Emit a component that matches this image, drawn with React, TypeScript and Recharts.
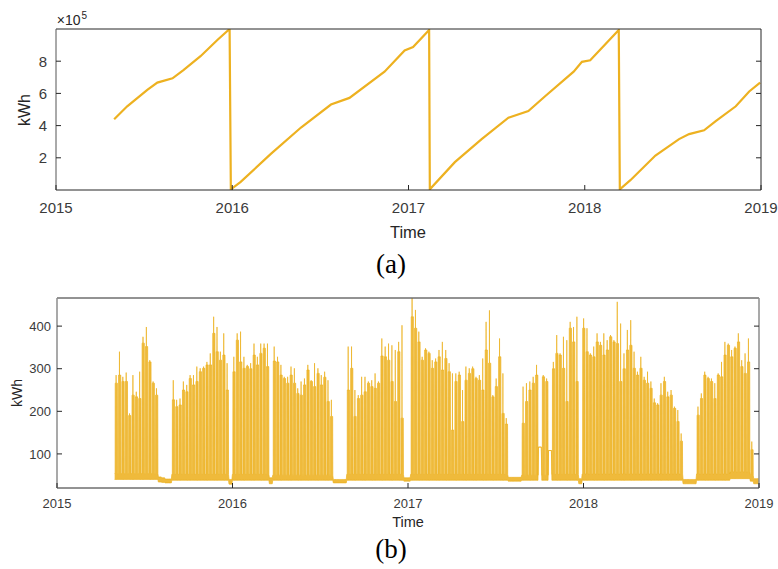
import React from 'react';
import { LineChart, Line, AreaChart, Area, XAxis, YAxis } from 'recharts';

// (a) cumulative meter reading (decimal year, kWh)
const meterYear = [
  2015.330, 2015.404, 2015.518, 2015.575, 2015.661, 2015.723, 2015.820, 2015.917, 2015.985, 2015.992,
  2016.048, 2016.219, 2016.390, 2016.560, 2016.665, 2016.864, 2016.978, 2017.026, 2017.117, 2017.121,
  2017.263, 2017.415, 2017.567, 2017.680, 2017.775, 2017.937, 2017.984, 2018.031, 2018.193, 2018.199,
  2018.259, 2018.401, 2018.535, 2018.592, 2018.677, 2018.743, 2018.857, 2018.933, 2018.995,
];
const meterKwh = [
  439000, 520000, 622000, 667000, 694000, 745000, 831000, 933000, 1000000, 4000,
  51000, 224000, 388000, 531000, 572000, 735000, 867000, 888000, 994000, 4000,
  173000, 316000, 449000, 490000, 582000, 735000, 796000, 806000, 994000, 4000,
  61000, 214000, 316000, 347000, 371000, 428000, 520000, 612000, 667000,
];

// (b) load, one entry per week from 1 May 2015; null = no working days that week
const firstWeekDay = 120; // days after 1 Jan 2015
const weekPeak: (number | null)[] = [
  285, 340, 281, 291, 195, 285, 246, 293, 375, 398,
  320, 270, 254, null, null, null, null, 273, 227, 230,
  270, 262, 285, 285, 305, 301, 305, 316, 336, 422,
  398, 340, 383, 313, null, 328, 383, 387, 328, 309,
  313, 359, 328, 359, 359, 359, null, 352, 328, 309,
  281, 281, 305, 301, 254, 270, 277, 309, 273, 313,
  301, 285, 293, 273, 227, null, null, null, null, 352,
  352, 250, 238, 281, 281, 270, 273, 289, 270, 371,
  352, 359, 355, 344, 363, 402, null, null, 465, 438,
  387, 328, 348, 340, 320, 324, 344, 363, 344, 313,
  289, 289, 293, 250, 305, 301, 305, 281, 285, 324,
  410, 437, 238, 277, 371, 289, 184, null, null, null,
  null, 258, 266, 270, 281, 309, null, 285, 277, null,
  316, 379, 336, 375, 367, 410, 398, 422, null, 418,
  395, 336, 352, 383, 363, 383, 367, 379, 367, 457,
  406, 336, 391, 414, 340, 293, 328, 281, 293, 270,
  230, 219, 266, 281, 246, 250, 211, 203, 148, null,
  null, null, null, 211, 242, 293, 281, 277, 266, 289,
  316, 363, 359, 344, 352, 383, 320, 336, 371, 129,
  null,
];
// typical working-day level of each week (the solid part under the spikes)
const weekTypical: (number | null)[] = [
  266, 285, 270, 270, 190, 238, 234, 230, 360, 352,
  316, 266, 238, null, null, null, null, 227, 211, 215,
  250, 246, 277, 262, 270, 293, 301, 309, 309, 383,
  340, 320, 332, 250, null, 293, 367, 316, 301, 305,
  300, 332, 309, 336, 348, 305, null, 318, 316, 285,
  277, 266, 285, 266, 242, 238, 262, 297, 270, 258,
  289, 262, 280, 223, 188, null, null, null, null, 250,
  301, 188, 230, 238, 246, 266, 258, 254, 266, 330,
  328, 320, 270, 223, 340, 184, null, null, 422, 395,
  363, 320, 344, 336, 301, 316, 328, 297, 324, 293,
  156, 270, 285, 176, 273, 289, 300, 277, 273, 250,
  344, 313, 234, 258, 328, 195, 170, null, null, null,
  null, 172, 223, 250, 266, 285, null, 281, 270, null,
  300, 336, 332, 301, 223, 395, 363, 270, null, 395,
  340, 332, 328, 363, 355, 332, 344, 375, 363, 359,
  270, 300, 344, 355, 301, 285, 301, 273, 266, 254,
  220, 215, 238, 270, 234, 238, 207, 176, 130, null,
  null, null, null, 191, 230, 285, 277, 270, 230, 285,
  281, 332, 355, 328, 348, 363, 305, 289, 316, 110,
  null,
];
// [fromWeek, toWeek, lowest load, off-hours load]
const baseLevels: [number, number, number, number][] = [
  [0, 12, 40, 54], [13, 13, 34, 46], [14, 14, 33, 44], [15, 16, 32, 41],
  [17, 33, 38, 52], [34, 34, 29, 40], [35, 45, 38, 52], [46, 46, 30, 44],
  [47, 64, 38, 50], [65, 68, 32, 40], [69, 85, 38, 52], [86, 87, 36, 44],
  [88, 116, 38, 52], [117, 120, 36, 45], [121, 125, 38, 50], [126, 126, 116, 116],
  [127, 128, 38, 50], [129, 129, 108, 108], [130, 137, 38, 52], [138, 138, 30, 42],
  [139, 168, 38, 53], [169, 172, 30, 40], [173, 182, 38, 53], [183, 188, 42, 58],
  [189, 189, 36, 50], [190, 190, 30, 42],
];

const yearTicks = [2015, 2016, 2017, 2018, 2019];
const meterTicks = [200000, 400000, 600000, 800000];
const loadTicks = [100, 200, 300, 400];

const meterData = meterYear.map((t, i) => ({ t, v: meterKwh[i] }));

const loadData: { t: number; r: [number, number] }[] = [];
weekPeak.forEach((peak, i) => {
  const [, , lo, off] = baseLevels.find((s) => i >= s[0] && i <= s[1])!;
  const top = peak ?? off;
  const mid = weekTypical[i] ?? off;
  const d = firstWeekDay + 7 * i;
  // weekend off-hours, working days at the typical level with the week's peak day
  const shape: [number, number][] = [
    [0, off], [1, off], [1.15, mid], [2.9, mid], [3, top], [3.1, mid], [5.7, mid], [6, off],
  ];
  shape.forEach(([dd, v]) => loadData.push({ t: 2015 + (d + dd) / 365.25, r: [lo, v] }));
  if (i === weekPeak.length - 1) loadData.push({ t: 2019, r: [lo, off] });
});

const ORANGE = '#EDB120';
const AXIS = '#262626';
const LABEL = '#3a3a3a';
const SANS = '"Liberation Sans", Arial, Helvetica, sans-serif';
const SERIF = '"Liberation Serif", "Times New Roman", serif';

const bottomTick = (size: number, gap: number) => (p: any) => (
  <g>
    <line x1={p.x} y1={p.y} x2={p.x} y2={p.y - 5} stroke={AXIS} />
    <text x={p.x} y={p.y + gap} textAnchor="middle" fontSize={size} fill={LABEL} fontFamily={SANS}>
      {p.payload.value}
    </text>
  </g>
);
const topTick = (p: any) => <line x1={p.x} y1={p.y} x2={p.x} y2={p.y + 5} stroke={AXIS} />;
const leftTick = (size: number, gap: number, fmt: (v: number) => string) => (p: any) => (
  <g>
    <line x1={p.x} y1={p.y} x2={p.x + 5} y2={p.y} stroke={AXIS} />
    <text x={p.x - gap} y={p.y + size * 0.36} textAnchor="end" fontSize={size} fill={LABEL} fontFamily={SANS}>
      {fmt(p.payload.value)}
    </text>
  </g>
);
const rightTick = (p: any) => <line x1={p.x} y1={p.y} x2={p.x - 5} y2={p.y} stroke={AXIS} />;

const txt = (left: number, top: number, size: number, font: string, extra: React.CSSProperties = {}): React.CSSProperties => ({
  position: 'absolute', left, top, fontSize: size, fontFamily: font, color: '#262626',
  lineHeight: 1, transform: 'translate(-50%, -50%)', whiteSpace: 'nowrap', ...extra,
});

export default function App() {
  return (
    <div style={{ position: 'absolute', left: 0, top: 0, width: 778, height: 569, background: '#fff', overflow: 'hidden' }}>
      <div style={{ position: 'absolute', left: 0, top: 0 }}>
        <LineChart width={778} height={250} data={meterData} margin={{ top: 28, right: 16, bottom: 30, left: 0 }}>
          <XAxis dataKey="t" type="number" domain={[2015, 2019]} ticks={yearTicks} interval={0} height={30}
            tickSize={0} tickMargin={0} tick={bottomTick(15, 23)} axisLine={{ stroke: AXIS }} allowDataOverflow />
          <XAxis xAxisId="top" orientation="top" type="number" domain={[2015, 2019]} ticks={yearTicks} interval={0}
            height={1} tickSize={0} tickMargin={0} tick={topTick} axisLine={{ stroke: AXIS }} allowDataOverflow />
          <YAxis type="number" domain={[0, 1000000]} ticks={meterTicks} interval={0} width={56}
            tickSize={0} tickMargin={0} tick={leftTick(15, 9, (v) => String(v / 100000))} axisLine={{ stroke: '#555' }} allowDataOverflow />
          <YAxis yAxisId="right" orientation="right" type="number" domain={[0, 1000000]} ticks={meterTicks} interval={0}
            width={1} tickSize={0} tickMargin={0} tick={rightTick} axisLine={{ stroke: AXIS }} allowDataOverflow />
          <Line dataKey="v" type="linear" stroke={ORANGE} strokeWidth={2.2} dot={false} isAnimationActive={false} />
        </LineChart>
      </div>
      <div style={{ position: 'absolute', left: 0, top: 270 }}>
        <AreaChart width={778} height={299} data={loadData} margin={{ top: 27, right: 18, bottom: 51, left: 0 }}>
          <XAxis dataKey="t" type="number" domain={[2015, 2019]} ticks={yearTicks} interval={0} height={30}
            tickSize={0} tickMargin={0} tick={bottomTick(13, 19.5)} axisLine={{ stroke: AXIS }} allowDataOverflow />
          <XAxis xAxisId="top" orientation="top" type="number" domain={[2015, 2019]} ticks={yearTicks} interval={0}
            height={1} tickSize={0} tickMargin={0} tick={topTick} axisLine={{ stroke: AXIS }} allowDataOverflow />
          <YAxis type="number" domain={[20, 466]} ticks={loadTicks} interval={0} width={57}
            tickSize={0} tickMargin={0} tick={leftTick(13, 6, (v) => String(v))} axisLine={{ stroke: '#8c8c8c', strokeWidth: 1.5 }} allowDataOverflow />
          <YAxis yAxisId="right" orientation="right" type="number" domain={[20, 466]} ticks={loadTicks} interval={0}
            width={1} tickSize={0} tickMargin={0} tick={rightTick} axisLine={{ stroke: '#8c8c8c', strokeWidth: 1.5 }} allowDataOverflow />
          <Area dataKey="r" type="linear" stroke={ORANGE} strokeWidth={0.7} fill={ORANGE} fillOpacity={0.88}
            dot={false} activeDot={false} isAnimationActive={false} />
        </AreaChart>
      </div>

      <div style={txt(72, 20, 14, SANS)}>
        ×10<span style={{ fontSize: 10, position: 'relative', top: -6, marginLeft: 1 }}>5</span>
      </div>
      <div style={txt(25, 110, 16, SANS, { transform: 'translate(-50%, -50%) rotate(-90deg)' })}>kWh</div>
      <div style={txt(408, 232, 16.5, SANS)}>Time</div>
      <div style={txt(391, 264, 27, SERIF, { color: '#000' })}>(a)</div>

      <div style={txt(17, 393, 14, SANS, { transform: 'translate(-50%, -50%) rotate(-90deg)' })}>kWh</div>
      <div style={txt(408, 522, 14.5, SANS)}>Time</div>
      <div style={txt(391, 549, 27, SERIF, { color: '#000' })}>(b)</div>
    </div>
  );
}
